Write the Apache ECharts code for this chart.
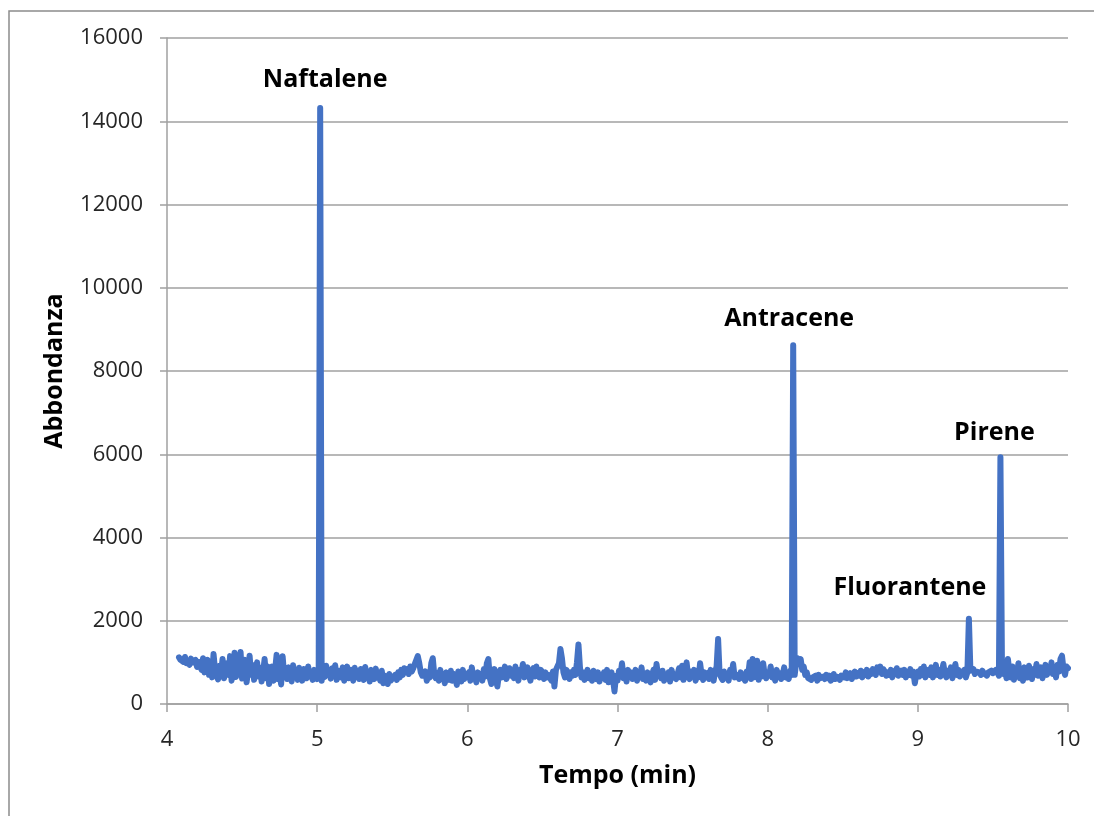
<!DOCTYPE html>
<html>
<head>
<meta charset="utf-8">
<script src="https://cdn.jsdelivr.net/npm/echarts@6/dist/echarts.min.js"></script>
<style>
  html, body { margin: 0; padding: 0; background: #fff; }
  #chart { width: 1094px; height: 816px; }
</style>
</head>
<body>
<div id="chart"></div>
<script>
// Cromatogramma: abbondanza campionata ogni 0.01 min a partire da 4.08 min
const tempoInizio = 4.08;
const passo = 0.01;

const abbondanza = [
  1120, 1060,
  1080, 1010, 1130, 980, 1050, 940, 1090, 1000, 960, 1060,   // 4.10
  890, 1010, 930, 820, 1100, 760, 950, 1060, 700, 880,       // 4.20
  640, 1200, 810, 700, 590, 920, 760, 1080, 620, 850,        // 4.30
  980, 700, 1150, 560, 830, 1230, 650, 900, 740, 1250,       // 4.40
  610, 880, 1060, 520, 790, 1160, 700, 940, 580, 820,        // 4.50
  1000, 660, 870, 540, 760, 1080, 620, 900, 480, 780,        // 4.60
  900, 560, 820, 1180, 600, 740, 470, 1150, 690, 830,        // 4.70
  600, 880, 720, 540, 930, 650, 800, 580, 870, 700,          // 4.80
  560, 840, 700, 620, 900, 660, 760, 580, 820, 680,          // 4.90
  600, 720, 14320, 560, 870, 650, 920, 700, 780, 610,        // 5.00
  860, 690, 930, 580, 800, 720, 640, 880, 560, 760,          // 5.10
  900, 620, 740, 820, 560, 870, 680, 770, 600, 840,          // 5.20
  700, 580, 890, 650, 760, 540, 820, 690, 600, 850,          // 5.30
  640, 720, 560, 800, 500, 680, 610, 480, 720, 560,          // 5.40
  520, 650, 700, 580, 760, 640, 820, 700, 860, 760,          // 5.50
  840, 720, 900, 780, 860, 960, 1000, 1150, 980, 760,        // 5.60
  680, 640, 780, 560, 700, 640, 980, 1100, 700, 620,         // 5.70
  740, 560, 820, 620, 700, 500, 760, 650, 580, 800,          // 5.80
  560, 720, 620, 460, 780, 650, 540, 820, 600, 700,          // 5.90
  650, 760, 560, 880, 620, 700, 520, 760, 640, 720,          // 6.00
  560, 840, 660, 980, 1080, 620, 480, 700, 840, 600,         // 6.10
  420, 700, 820, 640, 760, 900, 600, 740, 860, 680,          // 6.20
  780, 620, 900, 700, 560, 820, 740, 960, 640, 760,          // 6.30
  880, 700, 560, 780, 860, 660, 900, 740, 640, 820,          // 6.40
  700, 600, 760, 640, 700, 720, 560, 780, 420, 820,          // 6.50
  900, 980, 1320, 1100, 760, 640, 820, 700, 600, 760,        // 6.60
  680, 820, 700, 1000, 1430, 880, 640, 760, 580, 700,        // 6.70
  820, 620, 740, 560, 800, 680, 600, 760, 540, 700,          // 6.80
  640, 760, 580, 820, 520, 700, 760, 600, 300, 680,          // 6.90
  560, 800, 700, 980, 620, 740, 540, 820, 660, 760,          // 7.00
  600, 700, 820, 560, 740, 640, 880, 600, 720, 560,          // 7.10
  760, 660, 520, 700, 820, 580, 960, 680, 740, 620,          // 7.20
  800, 560, 700, 640, 760, 540, 820, 660, 700, 600,          // 7.30
  720, 860, 640, 920, 580, 760, 1000, 680, 600, 780,         // 7.40
  660, 820, 560, 720, 640, 980, 700, 580, 760, 640,          // 7.50
  740, 600, 820, 700, 560, 780, 900, 1560, 720, 640,         // 7.60
  580, 780, 660, 720, 560, 820, 700, 960, 640, 620,          // 7.70
  700, 600, 760, 680, 640, 560, 780, 680, 1000, 600,         // 7.80
  1080, 640, 720, 1040, 580, 760, 660, 980, 700, 620,        // 7.90
  760, 680, 900, 640, 720, 560, 820, 660, 740, 600,          // 8.00
  700, 880, 640, 760, 600, 800, 700, 8620, 700, 1000,        // 8.10
  1100, 960, 1080, 820, 900, 700, 760, 620, 660, 580,        // 8.20
  640, 600, 680, 560, 700, 620, 580, 660, 600, 700,          // 8.30
  620, 680, 560, 640, 720, 600, 660, 700, 580, 680,          // 8.40
  700, 640, 760, 620, 680, 740, 600, 720, 780, 660,          // 8.50
  740, 680, 800, 640, 760, 700, 820, 660, 780, 720,          // 8.60
  840, 760, 700, 880, 780, 900, 720, 840, 780, 680,          // 8.70
  760, 700, 820, 640, 780, 720, 860, 680, 740, 800,          // 8.80
  700, 820, 640, 760, 700, 840, 680, 780, 500, 720,          // 8.90
  780, 660, 840, 700, 900, 640, 760, 820, 700, 880,          // 9.00
  640, 760, 940, 700, 820, 660, 780, 960, 720, 640,          // 9.10
  800, 700, 880, 620, 760, 960, 700, 820, 660, 740,          // 9.20
  700, 820, 640, 760, 2050, 800, 760, 840, 720, 780,         // 9.30
  820, 760, 700, 800, 740, 780, 680, 760, 720, 800,          // 9.40
  740, 700, 820, 760, 680, 5930, 1000, 720, 880, 620,        // 9.50
  1080, 760, 640, 900, 580, 820, 700, 980, 620, 760,         // 9.60
  560, 880, 700, 640, 920, 760, 600, 840, 700, 960,          // 9.70
  680, 760, 880, 620, 800, 940, 700, 840, 760, 1000,         // 9.80
  720, 880, 640, 940, 780, 1080, 1160, 840, 700, 900,        // 9.90
  860                                                        // 10.00
];

// Composti identificati e tempo di ritenzione (min)
const composti = ['Naftalene', 'Antracene', 'Fluorantene', 'Pirene'];
const tempiRitenzione = [5.02, 8.17, 9.34, 9.55];

// Assi
const tickX = [4, 5, 6, 7, 8, 9, 10];
const tickY = [0, 2000, 4000, 6000, 8000, 10000, 12000, 14000, 16000];

const indice = t => Math.round((t - tempoInizio) / passo);
const punti = abbondanza.map((v, i) => [+(tempoInizio + i * passo).toFixed(2), v]);

// Spostamento delle etichette rispetto all'apice del picco (px)
const spostamenti = [[5, -28], [-4, -26], [-59, -31], [-6, -24]];

const marcatori = composti.map((nome, k) => ({
  name: nome,
  coord: [tempiRitenzione[k], abbondanza[indice(tempiRitenzione[k])]],
  label: { offset: spostamenti[k] }
}));

const FONT = '"Open Sans", "Liberation Sans", sans-serif';
const GRIGIO = '#a0a0a0';

const chart = echarts.init(document.getElementById('chart'), null, { renderer: 'canvas' });
chart.setOption({
  backgroundColor: '#ffffff',
  animation: false,
  graphic: [{
    type: 'rect',
    silent: true,
    shape: { x: 9, y: 11, width: 1200, height: 1000 },
    style: { fill: 'none', stroke: '#8c8c8c', lineWidth: 1.5 }
  }],
  grid: { left: 167, right: 26, top: 38, bottom: 112 },
  xAxis: {
    type: 'value',
    min: tickX[0],
    max: tickX[tickX.length - 1],
    interval: 1,
    name: 'Tempo (min)',
    nameLocation: 'middle',
    nameGap: 59,
    nameTextStyle: { fontFamily: FONT, fontSize: 25, fontWeight: 'bold', color: '#000' },
    axisLine: { show: true, lineStyle: { color: GRIGIO, width: 1.5 } },
    axisTick: { show: true, length: 8, lineStyle: { color: GRIGIO, width: 1.5 } },
    axisLabel: { fontFamily: FONT, fontSize: 22, color: '#262626', margin: 25 },
    splitLine: { show: false }
  },
  yAxis: {
    type: 'value',
    min: tickY[0],
    max: tickY[tickY.length - 1],
    interval: 2000,
    name: 'Abbondanza',
    nameLocation: 'middle',
    nameGap: 100,
    nameTextStyle: { fontFamily: FONT, fontSize: 25, fontWeight: 'bold', color: '#000' },
    axisLine: { show: true, lineStyle: { color: GRIGIO, width: 1.5 } },
    axisTick: { show: true, length: 7, lineStyle: { color: GRIGIO, width: 1.5 } },
    axisLabel: {
      fontFamily: FONT, fontSize: 22, color: '#262626', margin: 24,
      formatter: v => String(v)
    },
    splitLine: { show: true, lineStyle: { color: GRIGIO, width: 1.5 } }
  },
  series: [{
    type: 'line',
    data: punti,
    showSymbol: false,
    symbol: 'none',
    lineStyle: { color: '#4472c4', width: 6, cap: 'round', join: 'round' },
    markPoint: {
      symbol: 'circle',
      symbolSize: 0,
      silent: true,
      data: marcatori,
      label: {
        show: true,
        position: 'inside',
        formatter: p => p.name,
        fontFamily: FONT,
        fontSize: 25,
        fontWeight: 'bold',
        color: '#000'
      }
    }
  }]
});
</script>
</body>
</html>
